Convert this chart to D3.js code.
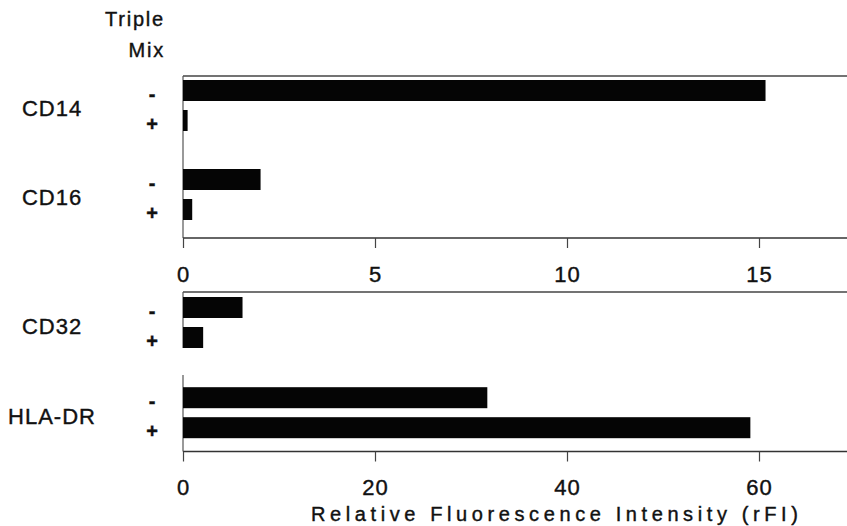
<!DOCTYPE html>
<meta charset="UTF-8">
<script src="https://d3js.org/d3.v7.min.js"></script>
<style>
  body { margin: 0; background: #fff; }
  text { font-family: "Liberation Sans", Arial, Helvetica, sans-serif; fill: #111; stroke: #111; stroke-width: 0.4px; }
</style>
<svg id="chart" width="847" height="526"></svg>
<script>
// data
var groups = ["CD14", "CD16", "CD32", "HLA-DR"];
var mixLevels = ["-", "+"];
var minusValues = [15.17, 2.02, 6.2, 31.7];
var plusValues = [0.12, 0.24, 2.1, 59.1];
var topTicks = [0, 5, 10, 15];
var bottomTicks = [0, 20, 40, 60];

var svg = d3.select("#chart"),
  width = +svg.attr("width"),
  left = 183;

// two panels with their own scales
var panels = [
  { groups: groups.slice(0, 2), ticks: topTicks, max: 15, top: 76, band: [75.5, 224.5], axisY: 238, gaps: [] },
  { groups: groups.slice(2, 4), ticks: bottomTicks, max: 60, top: 292, band: [292.5, 443.5], axisY: 451.5, gaps: [[348, 375]] }
];

var inner = d3.scaleBand().domain(mixLevels).range([0, 60]).paddingInner(0.3).paddingOuter(0.15);

panels.forEach(function(p) {
  var x = d3.scaleLinear().domain([0, p.max]).range([left, 759]);
  var y = d3.scaleBand().domain(p.groups).range(p.band).paddingInner(29 / 89).paddingOuter(0);

  var g = svg.append("g");

  // frame lines
  g.append("line").attr("x1", left).attr("x2", width).attr("y1", p.top).attr("y2", p.top)
    .attr("stroke", "#444").attr("stroke-width", 1.3);
  var segs = [[p.top, p.axisY]];
  if (p.gaps.length) segs = [[p.top, p.gaps[0][0]], [p.gaps[0][1], p.axisY]];
  segs.forEach(function(s) {
    g.append("line").attr("x1", left).attr("x2", left).attr("y1", s[0]).attr("y2", s[1])
      .attr("stroke", "#555").attr("stroke-width", 1.2);
  });
  g.append("line").attr("x1", left).attr("x2", width).attr("y1", p.axisY).attr("y2", p.axisY)
    .attr("stroke", "#333").attr("stroke-width", 1.3);

  // axis
  var axis = g.append("g")
    .attr("transform", "translate(0," + p.axisY + ")")
    .call(d3.axisBottom(x).tickValues(p.ticks).tickSize(10).tickPadding(18).tickSizeOuter(0));
  axis.select(".domain").remove();
  axis.selectAll(".tick line").attr("stroke", "#444").attr("stroke-width", 1.2);
  axis.selectAll(".tick text").style("font-size", "22px").attr("fill", "#111")
    .style("letter-spacing", "1px").style("font-family", "'Liberation Sans', Arial, sans-serif");

  // bars
  p.groups.forEach(function(name) {
    var idx = groups.indexOf(name);
    var vals = [minusValues[idx], plusValues[idx]];
    var gy = y(name);

    g.selectAll(null)
      .data(mixLevels)
      .enter().append("rect")
      .attr("x", x(0))
      .attr("y", function(d) { return gy + inner(d); })
      .attr("width", function(d, i) { return x(vals[i]) - x(0); })
      .attr("height", inner.bandwidth())
      .attr("fill", "#050505");

    g.selectAll(null)
      .data(mixLevels)
      .enter().append("text")
      .attr("x", 152)
      .attr("y", function(d) { return gy + inner(d) + inner.bandwidth() / 2 + 3; })
      .attr("dy", "0.35em")
      .attr("text-anchor", "middle")
      .style("font-size", "20px")
      .style("font-weight", "bold")
      .text(function(d) { return d; });

    g.append("text")
      .attr("x", 52)
      .attr("y", gy + y.bandwidth() / 2 + 3)
      .attr("dy", "0.35em")
      .attr("text-anchor", "middle")
      .style("font-size", "22px")
      .style("letter-spacing", "1px")
      .text(name);
  });
});

// header for the +/- column
svg.append("text").attr("x", 165).attr("y", 25.5).attr("text-anchor", "end")
  .style("font-size", "20px").style("letter-spacing", "1.8px").text("Triple");
svg.append("text").attr("x", 165).attr("y", 57).attr("text-anchor", "end")
  .style("font-size", "20px").style("letter-spacing", "1.8px").text("Mix");

// x axis title
svg.append("text")
  .attr("x", 311)
  .attr("y", 521)
  .style("font-size", "20px")
  .style("letter-spacing", "4.6px")
  .text("Relative Fluorescence Intensity (rFI)");
</script>
